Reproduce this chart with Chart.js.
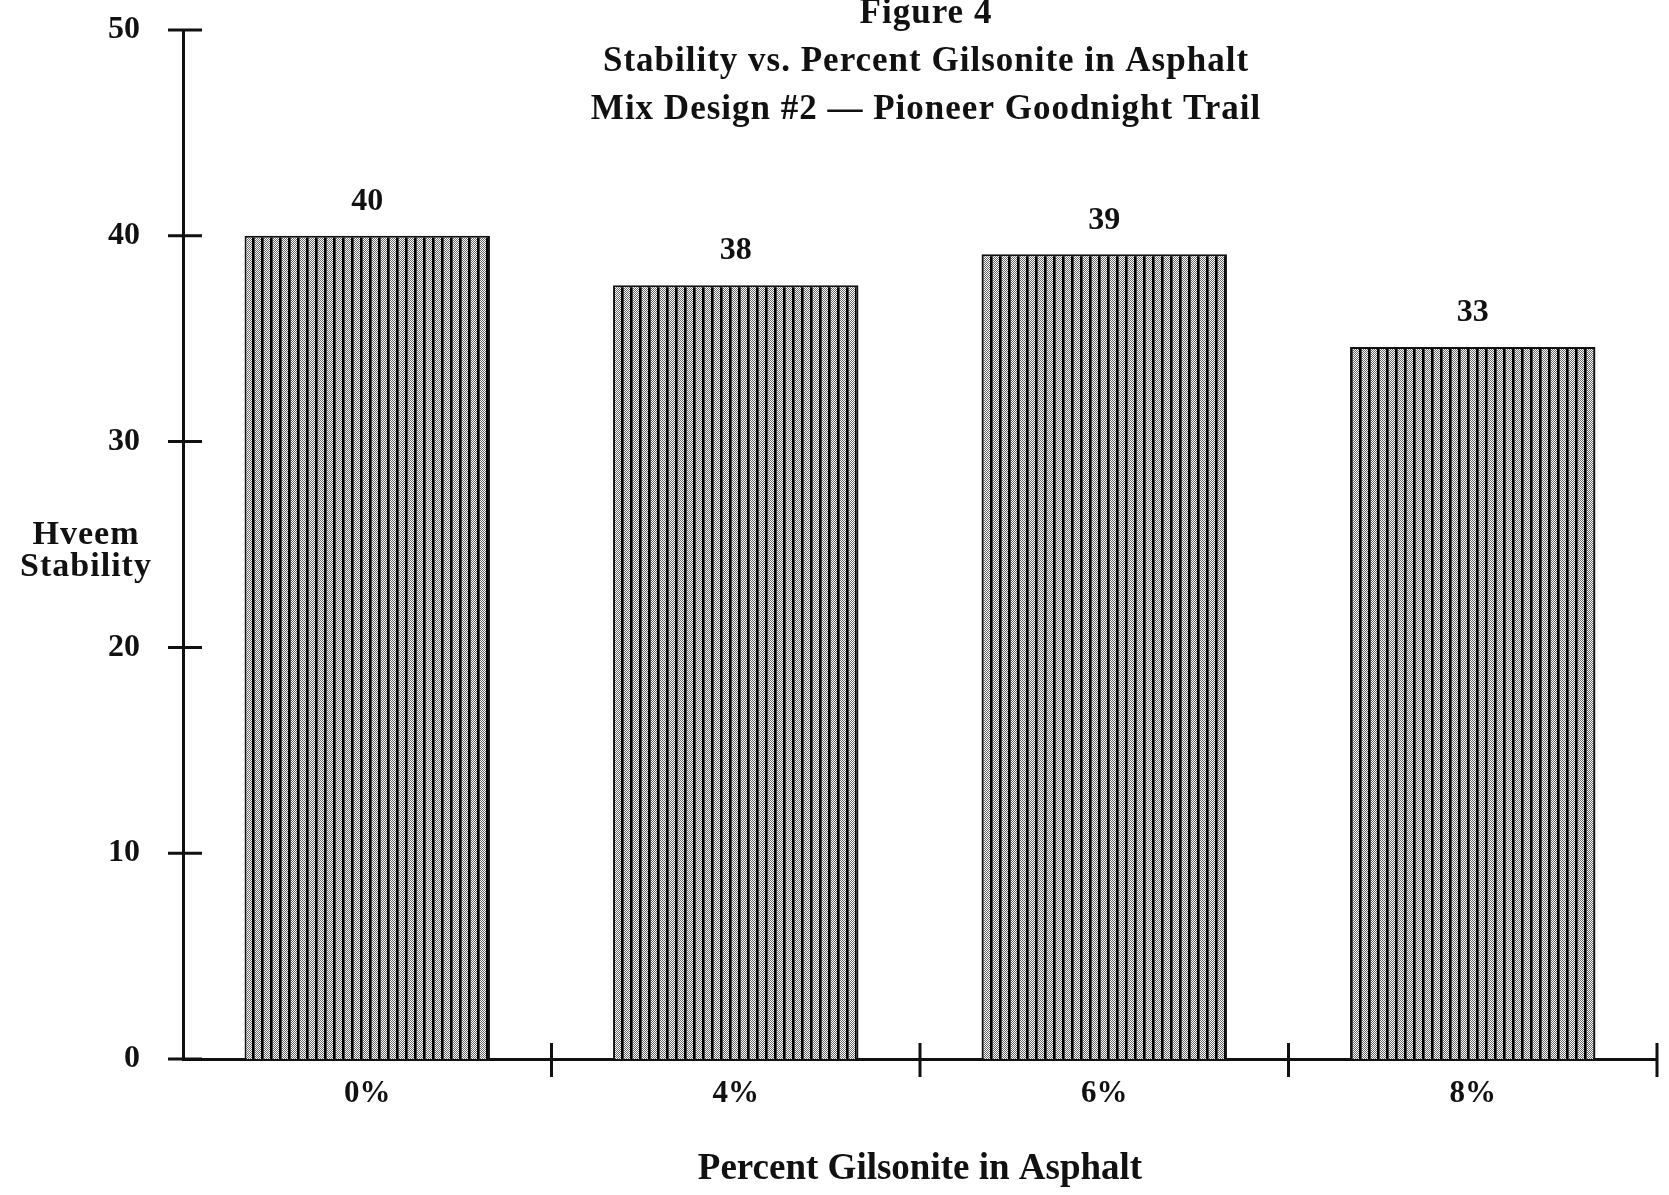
<!DOCTYPE html>
<html>
<head>
<meta charset="utf-8">
<script src="https://cdn.jsdelivr.net/npm/chart.js@4.4.1/dist/chart.umd.min.js"></script>
<style>
    html, body { margin: 0; padding: 0; background: #fff; }
    #wrap { width: 1669px; height: 1195px; position: relative; }
</style>
</head>
<body>
<div id="wrap"><canvas id="stabilityChart"></canvas></div>
<script>
// Data
const categories = ['0%', '4%', '6%', '8%'];
const stability = [40, 37.6, 39.1, 34.6];
const valueLabels = ['40', '38', '39', '33'];
const yTicks = [0, 10, 20, 30, 40, 50];
const titleLines = ['Figure 4', 'Stability vs. Percent Gilsonite in Asphalt', 'Mix Design #2 \u2014 Pioneer Goodnight Trail'];
const yTitleLines = ['Hveem', 'Stability'];
const xTitle = 'Percent Gilsonite in Asphalt';

const FONT = '"Liberation Serif", "Times New Roman", serif';
const INK = '#111';

// Grey dotted fill with dark vertical rules, like the printed screen
function makeHatch() {
    const c = document.createElement('canvas');
    c.width = 9; c.height = 4;
    const g = c.getContext('2d');
    g.fillStyle = '#fff';
    g.fillRect(0, 0, 9, 4);
    g.fillStyle = '#666';
    for (let y = 0; y < 4; y++) {
        for (let x = 3 + (y % 2); x < 9; x += 2) g.fillRect(x, y, 1, 1);
    }
    g.fillStyle = '#000';
    g.fillRect(0, 0, 2, 4);
    g.fillStyle = '#444';
    g.fillRect(2, 0, 1, 4);
    return g.createPattern(c, 'repeat');
}

// Titles, horizontal y title, value labels and crossing tick marks
const decorations = {
    id: 'decorations',
    afterDraw(chart) {
        const ctx = chart.ctx;
        const x = chart.scales.x;
        const y = chart.scales.y;
        ctx.save();
        ctx.fillStyle = INK;
        ctx.strokeStyle = INK;
        ctx.textAlign = 'center';
        ctx.textBaseline = 'middle';

        ctx.letterSpacing = '1px';
        ctx.font = 'bold 35px ' + FONT;
        const titleY = [14, 62, 110];
        titleLines.forEach((t, i) => ctx.fillText(t, 926, titleY[i]));

        ctx.font = 'bold 34px ' + FONT;
        yTitleLines.forEach((t, i) => ctx.fillText(t, 86, 535 + i * 32));

        ctx.letterSpacing = '0px';
        ctx.font = 'bold 32px ' + FONT;
        chart.getDatasetMeta(0).data.forEach((bar, i) => {
            ctx.fillText(valueLabels[i], bar.x, bar.y - 34);
        });

        // y ticks cross the axis
        ctx.lineWidth = 3;
        yTicks.forEach(v => {
            const py = y.getPixelForValue(v);
            ctx.beginPath();
            ctx.moveTo(x.left - 15, py);
            ctx.lineTo(x.left + 19, py);
            ctx.stroke();
        });
        // x ticks at category boundaries
        for (let i = 1; i <= categories.length; i++) {
            const px = x.getPixelForValue(i - 0.5);
            ctx.beginPath();
            ctx.moveTo(px, y.bottom - 16);
            ctx.lineTo(px, y.bottom + 18);
            ctx.stroke();
        }
        ctx.restore();
    }
};

new Chart(document.getElementById('stabilityChart'), {
    type: 'bar',
    data: {
        labels: categories,
        datasets: [{
            label: 'Hveem Stability',
            data: stability,
            backgroundColor: makeHatch(),
            borderColor: INK,
            borderWidth: 2,
            barPercentage: 0.666,
            categoryPercentage: 1
        }]
    },
    options: {
        responsive: true,
        maintainAspectRatio: false,
        animation: false,
        layout: { padding: { top: 0, right: 12, left: 0, bottom: 0 } },
        plugins: {
            legend: { display: false },
            tooltip: { enabled: false }
        },
        scales: {
            x: {
                grid: { display: false, drawTicks: false },
                border: { display: true, color: INK, width: 3 },
                ticks: { color: INK, padding: 16, font: { family: FONT, size: 31, weight: 'bold' } },
                title: {
                    display: true,
                    text: xTitle,
                    color: INK,
                    padding: { top: 0, bottom: 3 },
                    font: { family: FONT, size: 37, weight: 'bold' }
                },
                afterFit(scale) { scale.height = 136; }
            },
            y: {
                min: 0,
                max: 50,
                grid: { display: false, drawTicks: false },
                border: { display: true, color: INK, width: 3 },
                ticks: {
                    stepSize: 10,
                    color: INK,
                    padding: 43,
                    font: { family: FONT, size: 32, weight: 'bold' }
                },
                afterFit(scale) {
                    scale.width = 183;
                    scale.paddingTop = 30;
                    scale.paddingBottom = 0;
                }
            }
        }
    },
    plugins: [decorations]
});
</script>
</body>
</html>
